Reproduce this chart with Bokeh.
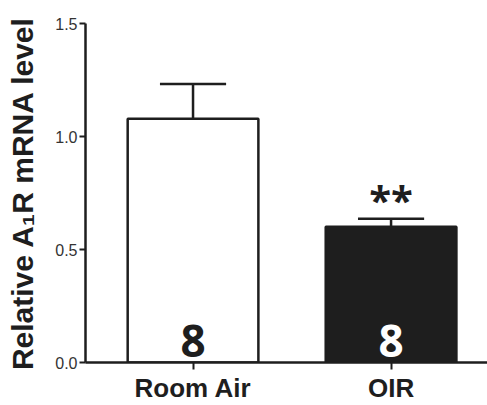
from bokeh.plotting import figure
from bokeh.models import ColumnDataSource, FixedTicker, NumeralTickFormatter, Range1d
from bokeh.core.properties import value
from bokeh.embed import file_html
from bokeh.resources import INLINE

categories = ["Room Air", "OIR"]
means = [1.079, 0.601]
sems = [0.153, 0.035]
n_labels = ["8", "8"]
sig_labels = ["", "**"]
bar_fill = ["white", "#1e1e1e"]
n_colors = ["#1e1e1e", "white"]

xs = [i + 1 for i in range(len(categories))]
upper = [m + s for m, s in zip(means, sems)]

p = figure(width=487, height=405, output_backend="svg", toolbar_location=None,
           x_range=Range1d(0.457, 2.487), y_range=Range1d(0, 1.5),
           min_border_left=85, min_border_right=0, min_border_top=23, min_border_bottom=40)
p.outline_line_color = None
p.grid.visible = False
p.background_fill_color = "white"
p.border_fill_color = "white"

src = ColumnDataSource(dict(x=xs, top=means, up=upper, fill=bar_fill,
                            n=n_labels, ncol=n_colors, sig=sig_labels,
                            capl=[x - 0.167 for x in xs], capr=[x + 0.167 for x in xs]))

p.segment(x0="x", y0="top", x1="x", y1="up", source=src, line_color="#1e1e1e", line_width=2.5)
p.segment(x0="capl", y0="up", x1="capr", y1="up", source=src, line_color="#1e1e1e", line_width=2.5)
p.vbar(x="x", top="top", bottom=0, width=0.66, source=src, fill_color="fill",
       line_color="#1e1e1e", line_width=2.5)

p.text(x="x", y=0.095, text="n", source=src, text_color="ncol",
       text_font=value("Open Sans"), text_font_style="bold", text_font_size="44px",
       text_align="center", text_baseline="alphabetic")
p.text(x="x", y="up", text="sig", source=src, text_color="#1e1e1e",
       text_font=value("Open Sans"), text_font_style="bold", text_font_size="40px",
       text_align="center", text_baseline="alphabetic", y_offset=-19)

# axes
p.yaxis.ticker = FixedTicker(ticks=[0, 0.5, 1.0, 1.5])
p.yaxis.formatter = NumeralTickFormatter(format="0.0")
p.yaxis.minor_tick_line_color = None
p.yaxis.major_tick_out = 6
p.yaxis.major_tick_in = 0
p.yaxis.axis_line_width = 2.5
p.yaxis.major_tick_line_width = 2
p.yaxis.axis_line_color = "#1e1e1e"
p.yaxis.major_tick_line_color = "#1e1e1e"
p.yaxis.major_label_text_font = "Liberation Sans"
p.yaxis.major_label_text_font_size = "16px"
p.yaxis.major_label_text_color = "#333333"
p.yaxis.major_label_standoff = 2
p.yaxis.axis_label = "Relative A\u2081R mRNA level"
p.yaxis.axis_label_text_font = "Liberation Sans"
p.yaxis.axis_label_text_font_style = "bold"
p.yaxis.axis_label_text_font_size = "30px"
p.yaxis.axis_label_text_color = "#1e1e1e"
p.yaxis.axis_label_standoff = 13

p.xaxis.ticker = FixedTicker(ticks=xs)
p.xaxis.major_label_overrides = {x: c for x, c in zip(xs, categories)}
p.xaxis.minor_tick_line_color = None
p.xaxis.major_tick_out = 7
p.xaxis.major_tick_in = 0
p.xaxis.axis_line_width = 2.5
p.xaxis.major_tick_line_width = 2
p.xaxis.axis_line_color = "#1e1e1e"
p.xaxis.major_tick_line_color = "#1e1e1e"
p.xaxis.major_label_text_font = "Liberation Sans"
p.xaxis.major_label_text_font_style = "bold"
p.xaxis.major_label_text_font_size = "26px"
p.xaxis.major_label_text_color = "#1e1e1e"
p.xaxis.major_label_standoff = 3

open("out.html", "w").write(file_html(p, INLINE))
